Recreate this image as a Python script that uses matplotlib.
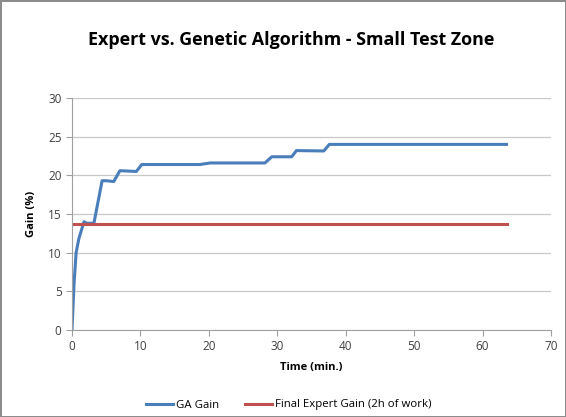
import matplotlib
matplotlib.use("Agg")
import matplotlib.pyplot as plt

plt.rcParams["font.family"] = ["Open Sans", "DejaVu Sans"]

# GA gain curve (time in minutes, gain in %)
ga_time = [0, 0.3, 0.6, 1.0, 1.75, 2.2, 3.2, 4.4, 5.0, 6.1, 7.0, 9.4, 10.2,
           18.7, 20.2, 28.2, 29.2, 32.1, 32.8, 36.8, 37.6, 63.5]
ga_gain = [0, 6.0, 10.0, 11.8, 14.0, 13.8, 13.8, 19.3, 19.3, 19.2, 20.6, 20.5, 21.4,
           21.4, 21.6, 21.6, 22.4, 22.4, 23.2, 23.15, 24.0, 24.0]

expert_time = [0, 63.5]
expert_gain = [13.7, 13.7]

x_ticks = [0, 10, 20, 30, 40, 50, 60, 70]
y_ticks = [0, 5, 10, 15, 20, 25, 30]

fig = plt.figure(figsize=(5.66, 4.17), dpi=100)
fig.patch.set_edgecolor("#8c8c8c")
fig.patch.set_linewidth(1.0)
ax = fig.add_axes([72 / 566, 1 - 330 / 417, (551 - 72) / 566, (330 - 98) / 417])

ax.plot(ga_time, ga_gain, color="#4a7ebb", lw=2.2, label="GA Gain")
ax.plot(expert_time, expert_gain, color="#c0504d", lw=2.2, label="Final Expert Gain (2h of work)")

ax.set_xlim(0, 70)
ax.set_ylim(0, 30)
ax.set_xticks(x_ticks)
ax.set_yticks(y_ticks)
ax.yaxis.grid(True, color="#c8c8c8", lw=0.9)
ax.set_axisbelow(True)
for s in ["top", "right"]:
    ax.spines[s].set_visible(False)
for s in ["left", "bottom"]:
    ax.spines[s].set_color("#a0a0a0")
ax.tick_params(colors="#a0a0a0", labelcolor="#404040", labelsize=8.5, length=4)

ax.set_xlabel("Time (min.)", fontsize=8, fontweight="bold", labelpad=6)
ax.set_ylabel("Gain (%)", fontsize=8, fontweight="bold", labelpad=8)
fig.suptitle("Expert vs. Genetic Algorithm - Small Test Zone", x=0.515, y=0.925,
             fontsize=12.9, fontweight="bold")

fig.legend(loc="center", bbox_to_anchor=(0.51, 1 - 405 / 417), ncol=2, frameon=False,
           fontsize=8.2, handlelength=2.4, columnspacing=2.2, handletextpad=0.3)

fig.savefig("out.png", dpi=100)
